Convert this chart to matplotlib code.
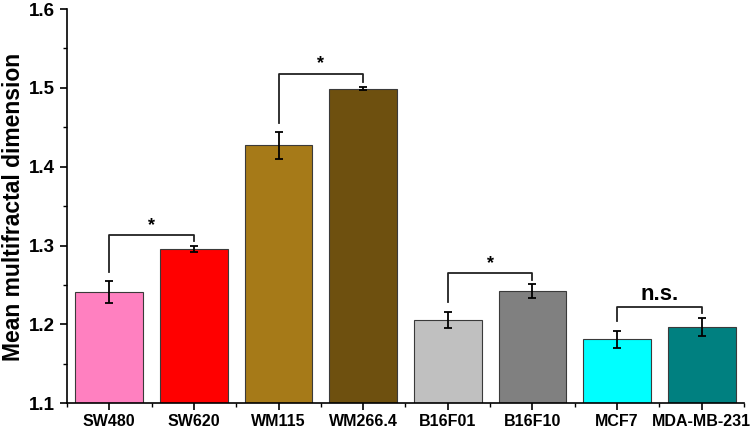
import matplotlib.pyplot as plt
import numpy as np
from matplotlib.ticker import MultipleLocator

plt.rcParams['font.family'] = ['Liberation Sans', 'DejaVu Sans']
plt.rcParams['font.weight'] = 'bold'

# data
cells = ["SW480", "SW620", "WM115", "WM266.4", "B16F01", "B16F10", "MCF7", "MDA-MB-231"]
means = [1.241, 1.296, 1.427, 1.499, 1.206, 1.242, 1.181, 1.197]
errs = [0.014, 0.004, 0.017, 0.002, 0.010, 0.009, 0.011, 0.011]
colors = ["#FF80C0", "#FF0000", "#A67A18", "#6E500F", "#C0C0C0", "#808080", "#00FFFF", "#008080"]

# significance brackets: (left bar, right bar, bracket height, label)
pairs = [(0, 1, 1.313, "*"), (2, 3, 1.518, "*"), (4, 5, 1.265, "*"), (6, 7, 1.222, "n.s.")]

fig = plt.figure(figsize=(7.5, 4.3), dpi=100)
ax = fig.add_axes([0.0893, 0.062, 0.9027, 0.917])

x = np.arange(1, len(cells) + 1)
ax.bar(x, np.array(means) - 1.1, bottom=1.1, width=0.8, color=colors,
       edgecolor="#3a3a3a", linewidth=0.8, zorder=2)
ax.errorbar(x, means, yerr=errs, fmt="none", ecolor="black", elinewidth=1.3,
            capsize=3, capthick=1.3, zorder=3)

for i, j, h, lab in pairs:
    yi = means[i] + errs[i] + 0.012
    yj = means[j] + errs[j] + 0.006
    ax.plot([x[i], x[i], x[j], x[j]], [yi, h, h, yj], color="#222222", lw=1.3, zorder=4)
    if lab == "*":
        ax.text((x[i] + x[j]) / 2, h + 0.002, lab, ha="center", va="bottom",
                fontsize=13, fontweight="bold")
    else:
        ax.text((x[i] + x[j]) / 2, h + 0.003, lab, ha="center", va="bottom",
                fontsize=16, fontweight="bold")

ax.set_xlim(0.5, 8.5)
ax.set_ylim(1.1, 1.6)
ax.set_xticks(x)
ax.set_xticklabels(cells, fontsize=11.5, fontweight="bold")
ax.xaxis.set_minor_locator(MultipleLocator(1.0, offset=0.5))
ax.yaxis.set_minor_locator(MultipleLocator(0.05))
ax.set_yticks([1.1, 1.2, 1.3, 1.4, 1.5, 1.6])
ax.set_yticklabels(["1.1", "1.2", "1.3", "1.4", "1.5", "1.6"], fontsize=13.5, fontweight="bold")
ax.tick_params(axis="both", which="major", direction="out", length=5, width=1.2)
ax.tick_params(axis="both", which="minor", direction="out", length=3, width=1.0)
ax.tick_params(axis="x", pad=3)

ax.set_ylabel("Mean multifractal dimension", fontsize=16.5, fontweight="bold")
ax.yaxis.set_label_coords(-0.0625, 0.497)

for s in ["top", "right"]:
    ax.spines[s].set_visible(False)
for s in ["left", "bottom"]:
    ax.spines[s].set_linewidth(1.2)

fig.savefig("out.png", dpi=100)
